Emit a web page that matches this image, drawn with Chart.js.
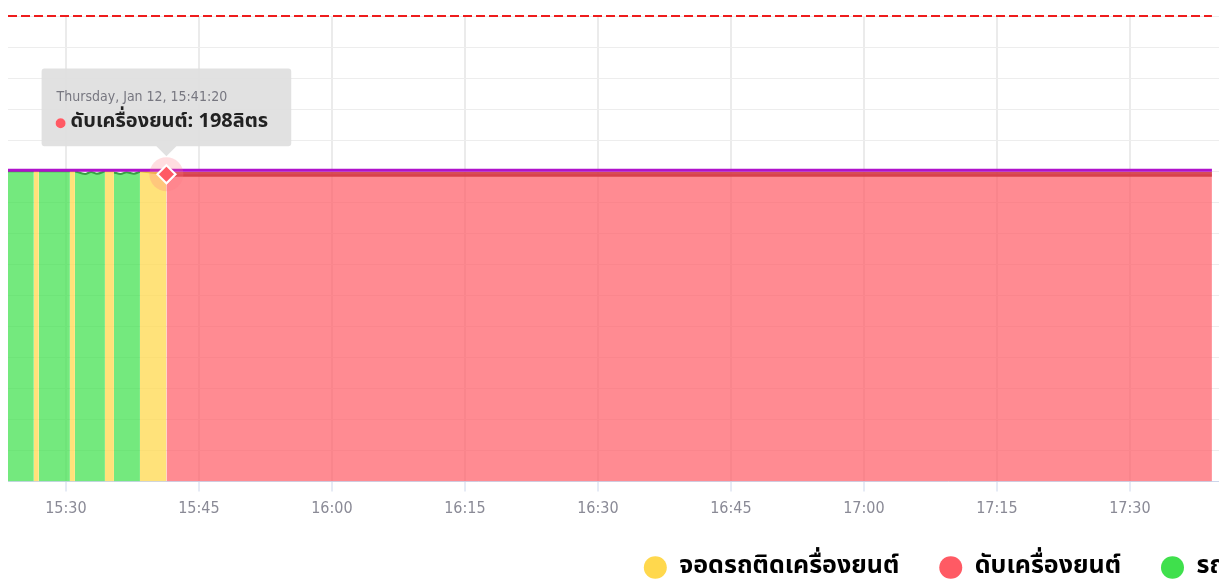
<!DOCTYPE html>
<html>
<head>
<meta charset="utf-8">
<script src="https://cdn.jsdelivr.net/npm/chart.js@4.4.1/dist/chart.umd.min.js"></script>
<style>
  html, body { margin: 0; padding: 0; overflow: hidden; background: #fff; }
  #wrap { position: absolute; left: 0; top: 0; width: 1896px; height: 590px; }
</style>
</head>
<body>
<div id="wrap"><canvas id="fuelChart"></canvas></div>
<script>
const dayLabel = 'Thursday, Jan 12, ';
const fuelUnit = 'ลิตร';
const statusLabels = ['จอดรถติดเครื่องยนต์', 'ดับเครื่องยนต์', 'รถวิ่ง'];
const statusColors = ['#ffd84d', '#ff5a64', '#3fe04c'];

// null marks a break between two segments of the same status
const idleTimes = ['15:26:23', '15:26:57', null, '15:30:27', '15:31:01', null, '15:34:24', '15:35:25', null, '15:38:21', '15:41:20'];
const idleFuel = [200, 200, null, 200, 200, null, 200, 200, null, 200, 198];
const offTimes = ['15:41:20', '17:39:15'];
const offFuel = [198, 198];
const runTimes = ['15:23:28', '15:26:23', null, '15:26:57', '15:28:30', '15:30:27', null, '15:31:01', '15:32:10', '15:32:50', '15:33:30', '15:34:24', null, '15:35:25', '15:36:10', '15:36:50', '15:37:40', '15:38:21'];
const runFuel = [200, 200, null, 200, 200, 200, null, 200, 198.2, 199.4, 198.3, 200, null, 199.2, 198.2, 199.3, 198.4, 199.6];
const levelTimes = ['15:23:28', '17:39:15'];
const levelFuel = [200.6, 200.6];
const capacityFuel = [300, 300];

const xMin = '15:23:28';
const xMax = '18:55:30';

function toMin(t) {
  const p = t.split(':').map(Number);
  return p[0] * 60 + p[1] + (p[2] || 0) / 60;
}
function pad(n) { return String(n).padStart(2, '0'); }
function fmtTime(v, withSec) {
  const totalSec = Math.round(v * 60);
  const h = Math.floor(totalSec / 3600);
  const m = Math.floor((totalSec % 3600) / 60);
  const s = totalSec % 60;
  return pad(h) + ':' + pad(m) + (withSec ? ':' + pad(s) : '');
}
function points(times, values) {
  return times.map((t, i) => t === null
    ? { x: toMin(times[i - 1]), y: null }
    : { x: toMin(t), y: values[i] });
}
function fade(hex, a) {
  const n = parseInt(hex.slice(1), 16);
  return `rgba(${n >> 16}, ${(n >> 8) & 255}, ${n & 255}, ${a})`;
}

const tickFont = "'DejaVu Sans Condensed', 'Liberation Sans Narrow', sans-serif";
const thaiFont = "'Noto Sans Thai', 'Noto Sans', sans-serif";

// pale circle behind the hovered point, point redrawn on top
const haloPlugin = {
  id: 'halo',
  afterDatasetsDraw(chart) {
    const ctx = chart.ctx;
    chart.getActiveElements().forEach(a => {
      const el = a.element;
      ctx.save();
      ctx.beginPath();
      ctx.arc(el.x, el.y, 17, 0, Math.PI * 2);
      ctx.fillStyle = 'rgba(255, 120, 130, 0.25)';
      ctx.fill();
      ctx.restore();
      el.draw(ctx, chart.chartArea);
    });
  }
};

const ctx = document.getElementById('fuelChart').getContext('2d');

const chart = new Chart(ctx, {
  type: 'line',
  data: {
    datasets: [
      {
        label: statusLabels[0],
        data: points(idleTimes, idleFuel),
        borderColor: '#e8c040',
        borderWidth: 2,
        backgroundColor: fade(statusColors[0], 0.75),
        fill: 'origin',
        pointRadius: 0,
        order: 3
      },
      {
        label: statusLabels[1],
        data: points(offTimes, offFuel),
        borderColor: 'rgba(212, 58, 68, 0.9)',
        borderWidth: 5,
        backgroundColor: fade(statusColors[1], 0.7),
        fill: 'origin',
        pointRadius: 0,
        pointStyle: 'rectRot',
        pointHoverRadius: 9,
        pointHoverBorderWidth: 2,
        pointHoverBorderColor: '#ffffff',
        pointHoverBackgroundColor: statusColors[1],
        order: 3
      },
      {
        label: statusLabels[2],
        data: points(runTimes, runFuel),
        borderColor: '#3a9e45',
        borderWidth: 2,
        backgroundColor: fade(statusColors[2], 0.72),
        fill: 'origin',
        pointRadius: 0,
        cubicInterpolationMode: 'monotone',
        order: 3
      },
      {
        label: 'level',
        data: points(levelTimes, levelFuel),
        borderColor: '#b012cc',
        borderWidth: 3,
        fill: false,
        pointRadius: 0,
        order: 1
      },
      {
        label: 'capacity',
        data: points([xMin, levelTimes[1]], capacityFuel),
        borderColor: '#ee1c1c',
        borderWidth: 2,
        borderDash: [9, 4],
        fill: false,
        pointRadius: 0,
        clip: false,
        order: 0
      }
    ]
  },
  options: {
    responsive: true,
    maintainAspectRatio: false,
    animation: false,
    events: [],
    spanGaps: false,
    layout: { padding: { left: 8, right: 8, top: 16, bottom: 0 } },
    scales: {
      x: {
        type: 'linear',
        min: toMin(xMin),
        max: toMin(xMax),
        afterFit: s => { s.height = 33.5; },
        grid: {
          color: '#ebebeb',
          lineWidth: 2,
          tickColor: '#ccd6eb',
          tickWidth: 1,
          tickLength: 10
        },
        border: { color: '#ccd6eb', width: 1 },
        ticks: {
          stepSize: 15,
          includeBounds: false,
          autoSkip: false,
          maxRotation: 0,
          padding: 8,
          color: '#8a8a96',
          font: { family: tickFont, size: 16 },
          callback: v => fmtTime(v, false)
        }
      },
      y: {
        min: 0,
        max: 300,
        grid: { color: '#ededed', lineWidth: 1, drawTicks: false },
        border: { display: false },
        ticks: { stepSize: 20, display: false }
      }
    },
    plugins: {
      legend: {
        position: 'bottom',
        labels: {
          usePointStyle: true,
          pointStyle: 'circle',
          boxHeight: 16,
          pointStyleWidth: 23,
          padding: 40,
          color: '#333333',
          font: { family: thaiFont, size: 25, weight: 'bold' },
          generateLabels: () => statusLabels.map((l, i) => ({
            text: l,
            fillStyle: statusColors[i],
            strokeStyle: statusColors[i],
            lineWidth: 0,
            pointStyle: 'circle',
            datasetIndex: i
          }))
        }
      },
      tooltip: {
        xAlign: 'center',
        yAlign: 'bottom',
        backgroundColor: 'rgba(222, 222, 222, 0.92)',
        titleColor: '#777780',
        titleFont: { family: tickFont, size: 14, weight: 'normal' },
        titleMarginBottom: 6,
        bodyColor: '#222222',
        bodyFont: { family: thaiFont, size: 20, weight: 'bold' },
        padding: { left: 15, right: 23, top: 20, bottom: 11 },
        cornerRadius: 3,
        caretSize: 10,
        caretPadding: 18,
        usePointStyle: true,
        boxWidth: 8,
        boxHeight: 8,
        boxPadding: 4,
        callbacks: {
          title: items => dayLabel + fmtTime(items[0].parsed.x, true),
          label: c => c.dataset.label + ': ' + c.parsed.y + fuelUnit,
          labelColor: c => ({ backgroundColor: statusColors[c.datasetIndex], borderColor: statusColors[c.datasetIndex], borderWidth: 0 }),
          labelPointStyle: () => ({ pointStyle: 'circle', rotation: 0 })
        }
      }
    }
  },
  plugins: [haloPlugin]
});

const hover = [{ datasetIndex: 1, index: 0 }];
const pt = chart.getDatasetMeta(1).data[0];
chart.setActiveElements(hover);
chart.tooltip.setActiveElements(hover, { x: pt.x, y: pt.y });
chart.update();
</script>
</body>
</html>
